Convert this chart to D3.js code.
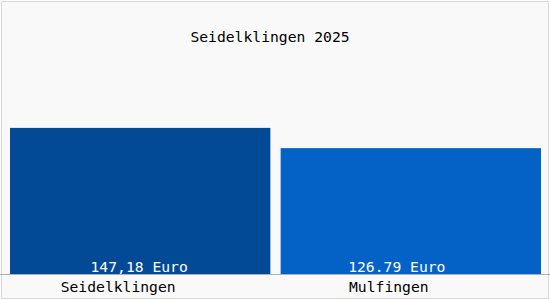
<!DOCTYPE html>
<html>
<head>
<meta charset="utf-8">
<script src="https://cdn.jsdelivr.net/npm/d3@7"></script>
<style>
  body { margin: 0; background: #fff; }
  svg { display: block; }
  text { font-family: "DejaVu Sans Mono", monospace; font-size: 14.7px; }
</style>
</head>
<body>
<svg width="550" height="300"></svg>
<script>
var title = "Seidelklingen 2025";
var places = ["Seidelklingen", "Mulfingen"];
var prices = [147.18, 126.79];
var priceLabels = ["147,18 Euro", "126.79 Euro"];
var barColors = ["#034a96", "#0462c6"];

const drawChart = function() {
    var svg = d3.select("svg"),
        width = +svg.attr("width"),
        height = +svg.attr("height"),
        baseY = 274;

    svg.append("rect")
        .attr("x", 1.5).attr("y", 1.5)
        .attr("width", width - 3).attr("height", height - 3)
        .attr("fill", "#f9f9f9")
        .attr("stroke", "#d8d8d8");

    var x = d3.scaleBand()
        .domain(places)
        .range([10, 541])
        .paddingInner(0.038);

    var y = d3.scaleLinear()
        .domain([0, 276])
        .range([baseY, 0]);

    var data = places.map(function (p, i) {
        return {place: p, value: prices[i], label: priceLabels[i], color: barColors[i]};
    });

    svg.append("text")
        .attr("x", 270)
        .attr("y", 42)
        .attr("text-anchor", "middle")
        .attr("fill", "#000")
        .text(title);

    svg.selectAll(".bar")
        .data(data)
        .enter().append("rect")
        .attr("class", "bar")
        .attr("x", function (d) { return x(d.place); })
        .attr("y", function (d) { return y(d.value); })
        .attr("width", x.bandwidth())
        .attr("height", function (d) { return baseY - y(d.value); })
        .attr("fill", function (d) { return d.color; });

    svg.selectAll(".val")
        .data(data)
        .enter().append("text")
        .attr("class", "val")
        .attr("x", function (d, i) { return x(d.place) + x.bandwidth() / 2 + (i == 0 ? -1 : -14); })
        .attr("y", 272)
        .attr("text-anchor", "middle")
        .attr("fill", "#fff")
        .text(function (d) { return d.label; });

    // axis line along the bottom of the bars
    svg.append("line")
        .attr("x1", 0).attr("x2", width)
        .attr("y1", baseY + 0.5).attr("y2", baseY + 0.5)
        .attr("stroke", "#b0b0b0");

    svg.selectAll(".cat")
        .data(data)
        .enter().append("text")
        .attr("class", "cat")
        .attr("x", function (d) { return x(d.place) + x.bandwidth() / 2 - 22; })
        .attr("y", 292)
        .attr("text-anchor", "middle")
        .attr("fill", "#000")
        .text(function (d) { return d.place; });
}

drawChart();
</script>
</body>
</html>
